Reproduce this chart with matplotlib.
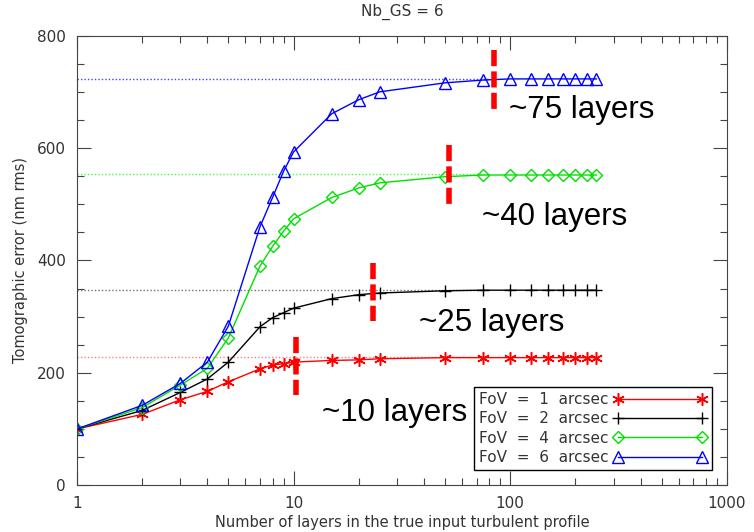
import matplotlib
matplotlib.use("Agg")
import matplotlib.pyplot as plt
from matplotlib.ticker import FixedLocator, MultipleLocator, NullFormatter

# number of layers in the input profile
layers = [1, 2, 3, 4, 5, 7, 8, 9, 10, 15, 20, 25, 50, 75, 100, 125, 150, 175, 200, 225, 250]

# tomographic error (nm rms) per field of view
err_fov1 = [100, 126, 152, 167, 184, 207, 214, 216, 219, 222, 223, 225, 227, 227, 227, 227, 227, 227, 227, 227, 227]
err_fov2 = [100, 133, 165, 189, 219, 282, 298, 307, 315, 332, 339, 342, 346, 347, 347, 347, 347, 347, 347, 347, 347]
err_fov4 = [100, 138, 178, 208, 262, 390, 425, 452, 474, 512, 529, 538, 549, 552, 552, 552, 552, 552, 552, 552, 552]
err_fov6 = [100, 142, 181, 219, 283, 460, 512, 559, 593, 661, 686, 700, 716, 721, 723, 723, 723, 723, 723, 723, 723]

asymptotes = [229, 347, 553, 723]
labels = ["FoV  =  1  arcsec", "FoV  =  2  arcsec", "FoV  =  4  arcsec", "FoV  =  6  arcsec"]

# where each curve saturates (red dashed marks) and the text next to it
sat_x = [10.3, 23.2, 52, 84]
sat_lo = [160, 292, 500, 670]
sat_hi = [263, 395, 606, 775]
note_text = ["~10 layers", "~25 layers", "~40 layers", "~75 layers"]
note_x = [13.5, 38, 74, 99]
note_y = [128, 288, 478, 667]

colors = ["#ff0000", "#000000", "#00e000", "#0000ff"]
dot_colors = ["#ff8080", "#707070", "#40ff40", "#4040ff"]

fig = plt.figure(figsize=(7.54, 5.32), dpi=100)
ax = fig.add_axes([0.102, 0.088, 0.862, 0.845])

for y, c in zip(asymptotes, dot_colors):
    ax.plot([1, 80], [y, y], linestyle=(0, (1, 1.5)), color=c, lw=1)

ax.plot(layers, err_fov1, color=colors[0], lw=1, marker=(6, 2, 0), ms=9, mew=1.1, label=labels[0])
ax.plot(layers, err_fov2, color=colors[1], lw=1, marker="+", ms=9, mew=1, label=labels[1])
ax.plot(layers, err_fov4, color=colors[2], lw=1, marker="D", ms=6, mfc="none", mew=1, label=labels[2])
ax.plot(layers, err_fov6, color=colors[3], lw=1, marker="^", ms=8, mfc="none", mew=1, label=labels[3])

for xs, lo, hi in zip(sat_x, sat_lo, sat_hi):
    ax.plot([xs, xs], [hi, lo], color="#ff0000", lw=4, linestyle=(0, (2.9, 0.95)),
            solid_capstyle="butt", dash_capstyle="butt")

for t, xt, yt in zip(note_text, note_x, note_y):
    ax.text(xt, yt, t, fontsize=22.5, family="Liberation Sans", color="black", va="center", ha="left")

ax.set_xscale("log")
ax.set_xlim(1, 1000)
ax.set_ylim(0, 800)
ax.xaxis.set_major_locator(FixedLocator([1, 10, 100, 1000]))
ax.set_xticklabels(["1", "10", "100", "1000"])
ax.xaxis.set_minor_formatter(NullFormatter())
ax.yaxis.set_major_locator(MultipleLocator(200))
ax.yaxis.set_minor_locator(MultipleLocator(50))

ax.tick_params(which="both", direction="in", top=True, right=True, color="#444444", width=0.8, labelcolor="#333333", labelsize=11, pad=8)
ax.tick_params(which="major", length=10)
ax.tick_params(which="minor", length=5)
for s in ax.spines.values():
    s.set_color("#444444")
    s.set_linewidth(0.8)

ax.set_title("Nb_GS = 6", fontsize=11, color="#333333", pad=14)
ax.set_xlabel("Number of layers in the true input turbulent profile", fontsize=10.5, color="#333333", labelpad=3)
ax.set_ylabel("Tomographic error (nm rms)", fontsize=10.5, color="#333333", labelpad=6)

leg = ax.legend(loc="lower right", bbox_to_anchor=(0.977, 0.033), markerfirst=False, numpoints=2,
                fontsize=11, handlelength=6.1, labelspacing=0.28, borderpad=0.35, handletextpad=0.3,
                borderaxespad=0, fancybox=False, framealpha=1, edgecolor="black")
leg.get_frame().set_linewidth(1)
for t in leg.get_texts():
    t.set_color("#333333")

fig.savefig("out.png", dpi=100)
